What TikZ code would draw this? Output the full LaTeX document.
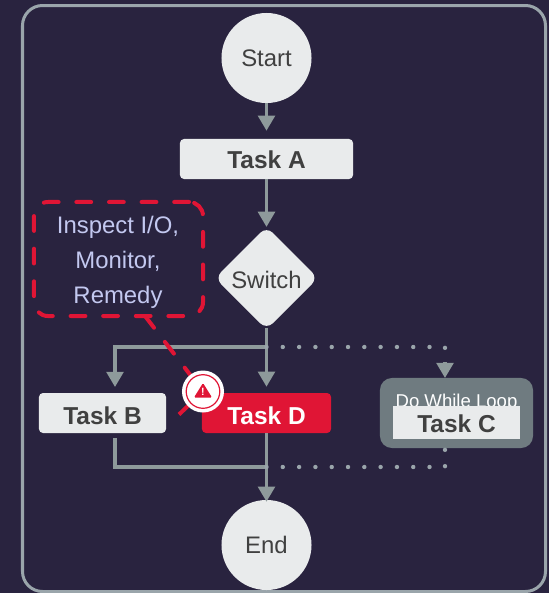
\documentclass[tikz,border=0pt]{standalone}
\usepackage{fontspec}
\setmainfont{Liberation Sans}
\usetikzlibrary{positioning,arrows.meta,shapes.geometric}
\definecolor{panelbg}{HTML}{29233F}
\definecolor{panelline}{HTML}{9AA5AB}
\definecolor{flowline}{HTML}{8E9A9B}
\definecolor{boxfill}{HTML}{E9EBEC}
\definecolor{boxtext}{HTML}{404040}
\definecolor{alertred}{HTML}{E01535}
\definecolor{loopgrey}{HTML}{6F7B80}
\definecolor{notetext}{HTML}{C3C8F0}
\tikzset{
	terminal/.style={circle,fill=boxfill,text=boxtext,minimum size=2.25cm,inner sep=0pt,font=\fontsize{17}{20}\selectfont},
	taskbox/.style={rectangle,rounded corners=0.1cm,fill=boxfill,text=boxtext,minimum height=1cm,inner sep=0pt,text depth=0pt,font=\bfseries\fontsize{17.4}{20}\selectfont},
	switchbox/.style={diamond,aspect=1,rounded corners=0.22cm,fill=boxfill,text=boxtext,minimum size=2.58cm,inner sep=0pt,text height=0.5cm,text depth=0pt,font=\fontsize{17}{20}\selectfont},
	flow/.style={draw=flowline,line width=0.085cm,-{Triangle[width=0.42cm,length=0.38cm]}},
	flowplain/.style={draw=flowline,line width=0.085cm},
	dotflow/.style={draw=panelline,line width=0.11cm,line cap=round,dash pattern=on 0pt off 0.4075cm},
	notedash/.style={line width=0.1cm,line cap=round,dash pattern=on 0.37cm off 0.445cm},
}
\begin{document}
\begin{tikzpicture}[x=0.025cm,y=-0.025cm]
	\useasboundingbox (0,0) rectangle (549,593);
	\fill[panelbg] (0,0) rectangle (549,593);
	\draw[panelline,line width=0.075cm,rounded corners=0.5cm] (22.5,5.5) rectangle (545.5,591.5);

	% flow nodes
	\node[terminal] (start) at (266.5,58) {Start};
	\node[taskbox,minimum width=4.325cm,text height=0.49cm] (taskA) at (266.5,159) {Task A};
	\node[switchbox] (switch) at (266.5,278) {Switch};
	\node[taskbox,minimum width=3.175cm,text height=0.58cm] (taskB) at (102.5,413) {Task B};
	\node[taskbox,minimum width=3.225cm,text height=0.58cm,fill=alertred,text=white] (taskD) at (266.5,413) {Task D};
	\node[terminal] (end) at (266.5,545) {End};

	% loop box, the inner task covers the foot of its title
	\node[rectangle,rounded corners=0.3cm,fill=loopgrey,minimum width=3.825cm,minimum height=1.75cm] (loop) at (456.5,413) {};
	\node[text=white,font=\fontsize{13.2}{16}\selectfont] (looptitle) at (456.5,402.5) {Do While Loop};
	\node[rectangle,fill=boxfill,text=boxtext,minimum width=3.175cm,minimum height=0.825cm,inner sep=0pt,text height=0.52cm,text depth=0pt,font=\bfseries\fontsize{17.4}{20}\selectfont] (taskC) at (456.5,422.5) {Task C};

	% branch points
	\coordinate (branchtop) at (266.5,347);
	\coordinate (branchleft) at (115,347);
	\coordinate (intoB) at (115,393);
	\coordinate (outB) at (115,438);
	\coordinate (mergeleft) at (115,467);
	\coordinate (mergemid) at (266.5,467);
	\coordinate (cornertop) at (445,347);
	\coordinate (cornerbot) at (445,467);
	\coordinate (looptop) at (445,378);
	\coordinate (loopbot) at (445,448);
	\coordinate (tiptop) at (445,362);

	\draw[flow,shorten >=0.2cm] (start) -- (taskA);
	\draw[flow,shorten >=-0.02cm] (taskA) -- (switch);
	\draw[flow,shorten <=-0.05cm,shorten >=0.15cm] (switch) -- (taskD);
	\draw[flow,shorten >=0.15cm] (branchtop) -- (branchleft) -- (intoB);
	\draw[flowplain] (outB) -- (mergeleft) -- (mergemid);
	\draw[flow,shorten >=-0.05cm] (taskD) -- (end);

	\draw[dotflow] (branchtop) -- (cornertop) -- (tiptop);
	\draw[flow] (tiptop) -- (looptop);
	\draw[dotflow] (mergemid) -- (cornerbot) -- (loopbot);

	% note with leader
	\node[rectangle,draw=alertred,notedash,rounded corners=0.35cm,minimum width=4.225cm,minimum height=2.85cm,inner sep=0pt] (note) at (118.5,259) {};
	\node[align=center,text=notetext,inner sep=0pt,font=\fontsize{17}{24.9}\selectfont] (notelabel) at (118,262) {Inspect I/O,\\Monitor,\\Remedy};
	\coordinate (leader) at (145,316);

	% magnifier
	\coordinate (lenscentre) at (203,391.5);
	\coordinate (handle) at (179,414.5);
	\draw[alertred,notedash] (leader) -- (lenscentre);
	\draw[alertred,line width=0.1cm] (handle) -- (lenscentre);
	\node[circle,fill=white,minimum size=1.05cm,inner sep=0pt] (lens) at (lenscentre) {};
	\draw[alertred,line width=0.03cm] (lens) circle (0.42cm);
	\fill[alertred,rounded corners=0.03cm] (203,383) -- (212,397.5) -- (194,397.5) -- cycle;
	\node[text=white,font=\bfseries\fontsize{7.5}{8}\selectfont,inner sep=0pt] (mark) at (203,391.5) {!};
\end{tikzpicture}
\end{document}
